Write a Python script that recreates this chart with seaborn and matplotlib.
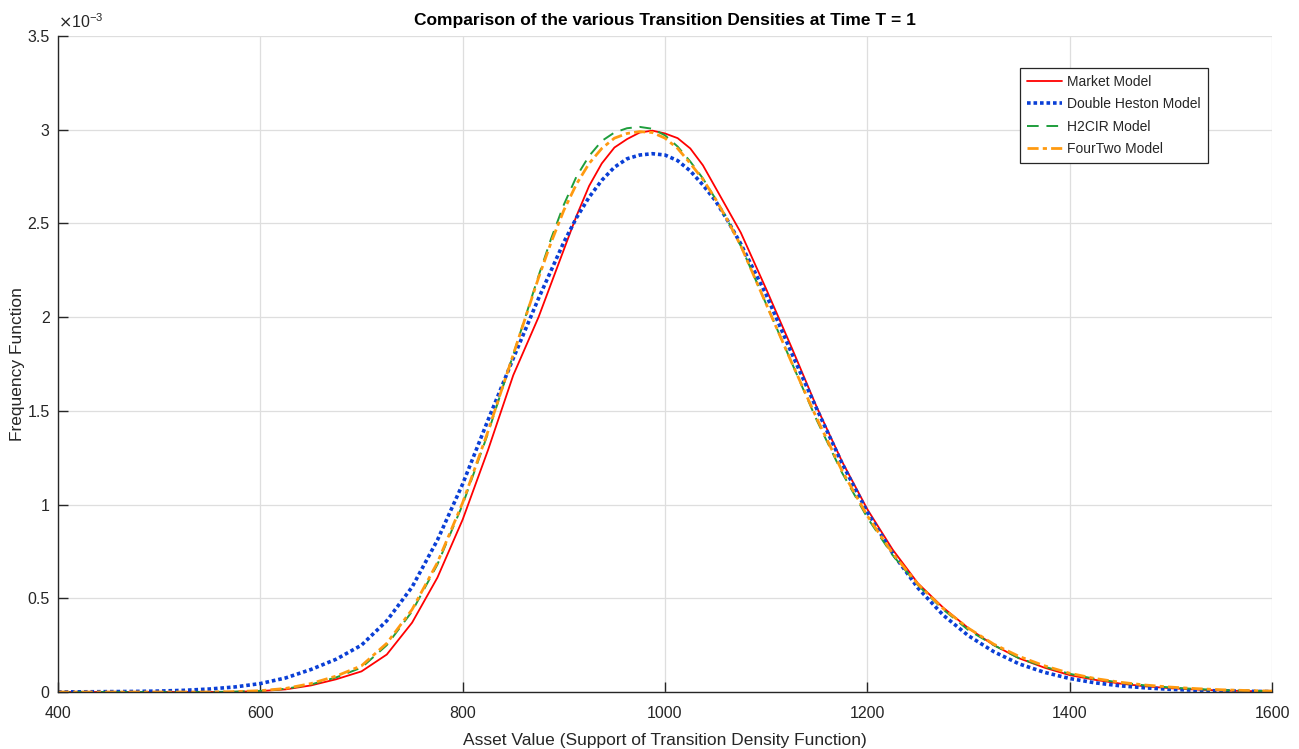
import numpy as np
import pandas as pd
import matplotlib
matplotlib.use("Agg")
import matplotlib.pyplot as plt
import seaborn as sns
from matplotlib.ticker import FuncFormatter

# ---- data (densities in units of 1e-3) ----
asset_value = ([400, 425, 450, 475, 500, 525, 550, 575, 600, 625, 650, 675, 700,
                725, 750, 775, 800, 825, 850, 875]
               + [887.5, 900, 912.5, 925, 937.5, 950, 962.5, 975, 987.5, 1000,
                  1012.5, 1025, 1037.5, 1050, 1062.5, 1075]
               + [1100, 1125, 1150, 1175, 1200, 1225, 1250, 1275, 1300, 1325,
                  1350, 1375, 1400, 1425, 1450, 1475, 1500, 1525, 1550, 1575, 1600])

market_model = ([0, 0, 0, 0, 0, 0, 0, 0.001, 0.005, 0.014, 0.035, 0.068, 0.11,
                 0.20, 0.37, 0.61, 0.92, 1.29, 1.69, 2.00]
                + [2.18, 2.36, 2.54, 2.70, 2.82, 2.905, 2.95, 2.985, 2.995, 2.98,
                   2.955, 2.90, 2.81, 2.69, 2.57, 2.45]
                + [2.15, 1.84, 1.52, 1.23, 0.975, 0.76, 0.58, 0.45, 0.34, 0.25,
                   0.18, 0.13, 0.09, 0.065, 0.045, 0.03, 0.02, 0.013, 0.008, 0.005,
                   0.003])

double_heston = ([0.0005, 0.001, 0.002, 0.003, 0.005, 0.009, 0.016, 0.027, 0.045,
                  0.075, 0.12, 0.175, 0.25, 0.38, 0.56, 0.81, 1.11, 1.45, 1.78, 2.10]
                 + [2.25, 2.40, 2.53, 2.64, 2.73, 2.80, 2.845, 2.865, 2.872, 2.865,
                    2.835, 2.78, 2.705, 2.62, 2.51, 2.39]
                 + [2.12, 1.81, 1.51, 1.22, 0.96, 0.74, 0.555, 0.41, 0.30, 0.215,
                    0.15, 0.105, 0.072, 0.049, 0.033, 0.022, 0.014, 0.009, 0.006,
                    0.004, 0.002])

h2cir = ([0, 0, 0, 0, 0, 0, 0, 0.002, 0.006, 0.017, 0.04, 0.078, 0.13, 0.25,
          0.43, 0.68, 1.00, 1.38, 1.80, 2.22]
         + [2.42, 2.60, 2.75, 2.86, 2.94, 2.985, 3.008, 3.015, 3.005, 2.97,
            2.91, 2.83, 2.74, 2.63, 2.51, 2.38]
         + [2.07, 1.76, 1.45, 1.17, 0.93, 0.73, 0.57, 0.44, 0.33, 0.25,
            0.18, 0.135, 0.097, 0.07, 0.05, 0.035, 0.024, 0.016, 0.01, 0.007,
            0.004])

fourtwo = ([0, 0, 0, 0, 0, 0, 0, 0.002, 0.007, 0.019, 0.045, 0.085, 0.14, 0.26,
            0.44, 0.69, 1.01, 1.39, 1.80, 2.21]
           + [2.40, 2.57, 2.71, 2.82, 2.90, 2.955, 2.98, 2.99, 2.985, 2.955,
              2.90, 2.82, 2.735, 2.63, 2.51, 2.38]
           + [2.07, 1.76, 1.46, 1.18, 0.94, 0.74, 0.575, 0.445, 0.34, 0.255,
              0.19, 0.14, 0.10, 0.072, 0.052, 0.037, 0.026, 0.018, 0.012, 0.008,
              0.005])

series_names = ["Market Model", "Double Heston Model", "H2CIR Model", "FourTwo Model"]
series_values = [market_model, double_heston, h2cir, fourtwo]
scale = 1e-3

x_ticks = [400, 600, 800, 1000, 1200, 1400, 1600]
y_ticks = [0, 0.5e-3, 1e-3, 1.5e-3, 2e-3, 2.5e-3, 3e-3, 3.5e-3]

# ---- styling ----
sns.set_theme(style="white")
plt.rcParams["font.family"] = ["Liberation Sans", "DejaVu Sans"]

colors = ["#FF0000", "#0A3FD6", "#1E9E3C", "#FF9A10"]
styles = [dict(linestyle="-", linewidth=1.3),
          dict(linestyle=(0, (1, 0.8)), linewidth=2.6),
          dict(linestyle=(0, (6, 4)), linewidth=1.4),
          dict(linestyle=(0, (4, 1.5, 1.5, 1.5)), linewidth=2.0)]

fig = plt.figure(figsize=(12.99, 7.49), dpi=100)
ax = fig.add_axes([58 / 1299, 1 - 692 / 749, (1272 - 58) / 1299, (692 - 36) / 749])

for name, vals, c, st in zip(series_names, series_values, colors, styles):
    df = pd.DataFrame({"x": asset_value, "y": np.array(vals) * scale})
    sns.lineplot(data=df, x="x", y="y", ax=ax, color=c, label=name, **st)

ax.set_xlim(400, 1600)
ax.set_ylim(0, 3.5e-3)
ax.set_xticks(x_ticks)
ax.set_yticks(y_ticks)
ax.yaxis.set_major_formatter(FuncFormatter(lambda v, p: f"{v / scale:g}"))
ax.grid(True, color="#dedede", linewidth=0.9)
ax.set_axisbelow(True)

for s in ["top", "right"]:
    ax.spines[s].set_visible(False)
for s in ["left", "bottom"]:
    ax.spines[s].set_color("#262626")
    ax.spines[s].set_linewidth(1.0)

ax.tick_params(axis="both", direction="in", length=7, width=1.0, colors="#262626",
               labelsize=11.5, left=True, bottom=True, pad=10)
ax.tick_params(axis="y", pad=6)

ax.set_xlabel("Asset Value (Support of Transition Density Function)", fontsize=12.5,
              color="#262626", labelpad=9)
ax.set_ylabel("Frequency Function", fontsize=12.5, color="#262626", labelpad=2)
ax.set_title("Comparison of the various Transition Densities at Time T = 1",
             fontsize=12.5, fontweight="bold", color="black", pad=8)

ax.text(0.0, 1.008, r"$\times$10$^{\mathregular{-3}}$", transform=ax.transAxes,
        fontsize=11.5, color="#262626", ha="left", va="bottom")

leg = ax.legend(loc="upper right", bbox_to_anchor=(1208 / 1299, 1 - 68 / 749),
                bbox_transform=fig.transFigure, fontsize=10, frameon=True,
                fancybox=False, edgecolor="#262626", framealpha=1,
                handlelength=2.5, handletextpad=0.4, borderpad=0.5,
                labelspacing=0.6, borderaxespad=0)
leg.get_frame().set_linewidth(0.9)

fig.savefig("out.png", dpi=100)
